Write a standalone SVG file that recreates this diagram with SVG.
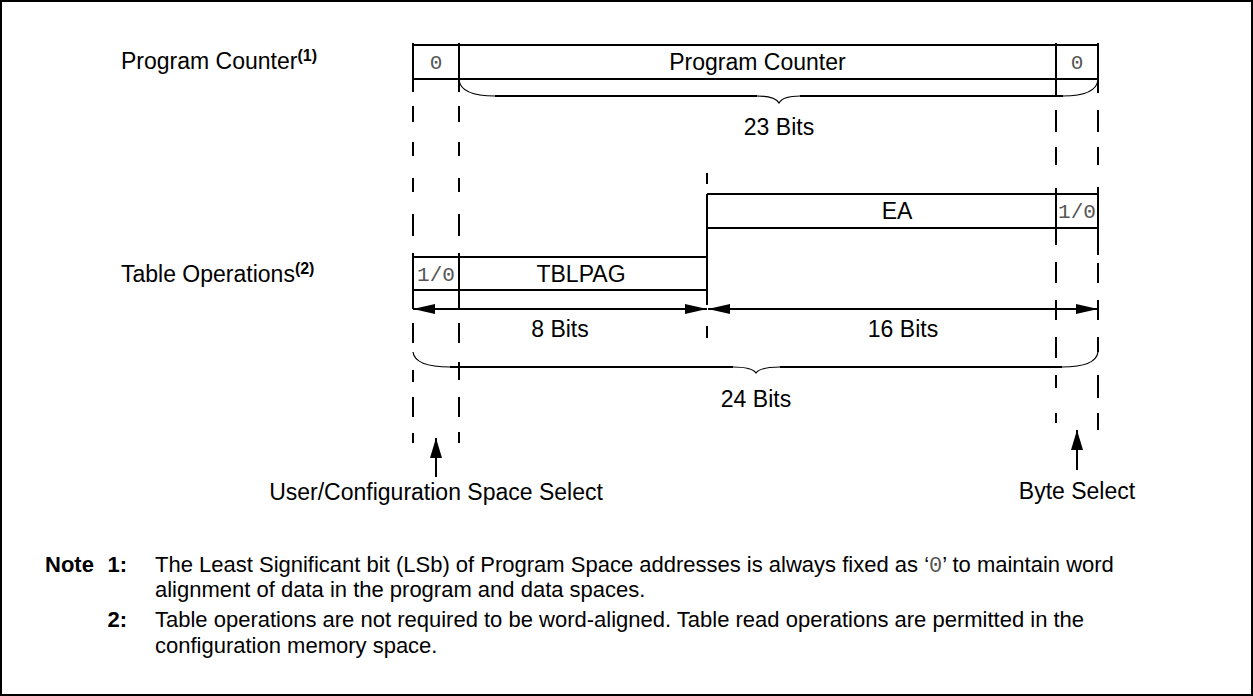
<svg xmlns="http://www.w3.org/2000/svg" width="1253" height="696" viewBox="0 0 1253 696">
<style>
.t{font-family:"Liberation Sans",Arial,Helvetica,sans-serif;font-size:23px;fill:#000}
.m{font-family:"Liberation Mono","Courier New",monospace;font-size:21px;fill:#555}
.b{font-weight:bold}
.sup{font-size:16px;font-weight:bold}
.n{font-size:22px}
.c{text-anchor:middle}
.e{text-anchor:end}
.ln{stroke:#000;stroke-width:2;fill:none}
.thin{stroke:#000;stroke-width:1.2;fill:none}
.dash{stroke:#000;stroke-width:2;fill:none}
</style>
<defs>
<marker id="ah" viewBox="0 0 22 10" refX="22" refY="5" markerWidth="22" markerHeight="10" markerUnits="userSpaceOnUse" orient="auto-start-reverse"><path d="M0,0 L22,5 L0,10 z" fill="#000"/></marker>
<marker id="ua" viewBox="0 0 20 12" refX="20" refY="6" markerWidth="20" markerHeight="12" markerUnits="userSpaceOnUse" orient="auto"><path d="M0,0 L20,6 L0,12 z" fill="#000"/></marker>
</defs>
<rect x="1" y="1" width="1251" height="694" fill="#fff" stroke="#000" stroke-width="2"/>

<g id="label-pc">
<text class="t" x="121" y="69">Program Counter<tspan class="sup" dy="-8">(1)</tspan></text>
</g>
<g id="label-tbl">
<text class="t" x="121" y="282">Table Operations<tspan class="sup" dy="-8">(2)</tspan></text>
</g>

<g id="pc-register">
<path class="ln" d="M413,45H1098M413,79H1098M413,43V92M459,43V92M1056,43V95M1098,43V93"/>
<text class="m c" x="436" y="69">0</text>
<text class="t c" x="757.5" y="70">Program Counter</text>
<text class="m c" x="1077" y="69">0</text>
</g>

<g id="ea-register">
<path class="ln" d="M707,194H1098M707,228H1098M707,194V305M1056,188V245M1098,187V255"/>
<text class="t c" x="897" y="219">EA</text>
<text class="m c" x="1077" y="218">1/0</text>
</g>

<g id="tblpag-register">
<path class="ln" d="M413,257H707M413,290H707M413,253V309M459,253V309"/>
<text class="m c" x="436" y="281">1/0</text>
<text class="t c" x="581" y="282">TBLPAG</text>
</g>

<g id="connectors">
<path class="dash" d="M413,106V122M413,142V156M413,178V192M413,214V236M413,323V343M413,370V382M413,397V417M413,433V443"/>
<path class="dash" d="M459,106V122M459,142V156M459,178V192M459,214V236M459,323V343M459,362V380M459,397V417M459,432V443"/>
<path class="dash" d="M707,173V184M707,326V338"/>
<path class="dash" d="M1056,110V132M1056,147V165M1056,262V283M1056,300V320M1056,337V358M1056,375V388M1056,413V423"/>
<path class="dash" d="M1098,110V132M1098,147V165M1098,263V283M1098,300V320M1098,337V352M1098,375V398M1098,413V430"/>

<path class="thin" d="M459,80 Q461,96 495,96"/>
<path class="ln" d="M495,96H757"/>
<path class="thin" d="M757,96 Q775,96 779,103 Q783,96 800,96"/>
<path class="ln" d="M800,96H1063"/>
<path class="thin" d="M1063,96 Q1096,96 1098,80"/>

<path class="thin" d="M413,352 Q415,367 450,367"/>
<path class="ln" d="M450,367H733"/>
<path class="thin" d="M733,367 Q752,367 756,373 Q760,367 780,367"/>
<path class="ln" d="M780,367H1062"/>
<path class="thin" d="M1062,367 Q1096,367 1098,352"/>

<line class="ln" x1="413" y1="309" x2="707" y2="309" marker-start="url(#ah)" marker-end="url(#ah)"/>
<line class="ln" x1="708" y1="309" x2="1098" y2="309" marker-start="url(#ah)" marker-end="url(#ah)"/>

<line class="ln" x1="436" y1="477" x2="436" y2="438" marker-end="url(#ua)"/>
<line class="ln" x1="1077" y1="470" x2="1077" y2="430" marker-end="url(#ua)"/>
</g>

<g id="labels">
<text class="t c" x="779" y="135">23 Bits</text>
<text class="t c" x="560" y="337">8 Bits</text>
<text class="t c" x="903" y="337">16 Bits</text>
<text class="t c" x="756" y="407">24 Bits</text>
<text class="t c" x="436" y="500">User/Configuration Space Select</text>
<text class="t c" x="1077" y="499">Byte Select</text>
</g>

<g id="notes">
<text class="t n b" x="45" y="572">Note</text>
<text class="t n b e" x="127" y="572">1:</text>
<text class="t n" x="155" y="572">The Least Significant bit (LSb) of Program Space addresses is always fixed as ‘<tspan class="m n" style="fill:#555">0</tspan>’ to maintain word</text>
<text class="t n" x="155" y="597">alignment of data in the program and data spaces.</text>
<text class="t n b e" x="127" y="627">2:</text>
<text class="t n" x="155" y="627">Table operations are not required to be word-aligned. Table read operations are permitted in the</text>
<text class="t n" x="155" y="653">configuration memory space.</text>
</g>
</svg>
